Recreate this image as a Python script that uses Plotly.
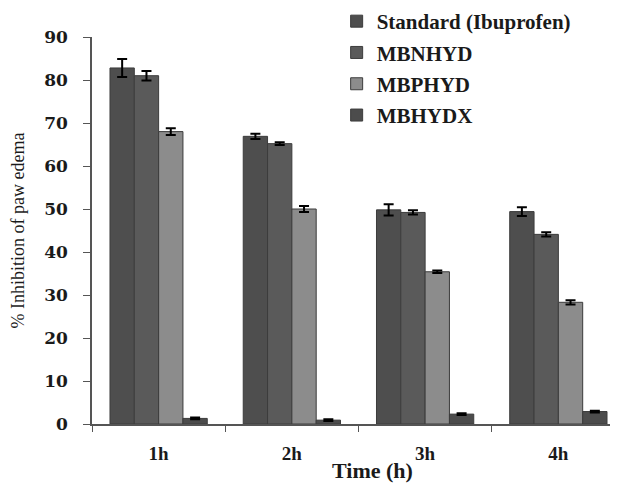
import plotly.graph_objects as go

categories = ["1h", "2h", "3h", "4h"]
series_names = ["Standard (Ibuprofen)", "MBNHYD", "MBPHYD", "MBHYDX"]
standard = [82.8, 66.9, 49.8, 49.4]
standard_err = [2.1, 0.6, 1.3, 1.0]
mbnhyd = [81.0, 65.2, 49.2, 44.1]
mbnhyd_err = [1.1, 0.3, 0.5, 0.5]
mbphyd = [68.0, 50.0, 35.4, 28.3]
mbphyd_err = [0.8, 0.7, 0.3, 0.5]
mbhydx = [1.3, 0.9, 2.3, 2.9]
mbhydx_err = [0.2, 0.2, 0.2, 0.2]
y_ticks = [0, 10, 20, 30, 40, 50, 60, 70, 80, 90]

values = [standard, mbnhyd, mbphyd, mbhydx]
errors = [standard_err, mbnhyd_err, mbphyd_err, mbhydx_err]
colors = ["#4e4e4e", "#5a5a5a", "#8c8c8c", "#4c4c4c"]

fig = go.Figure()
for i, (name, v, e, c) in enumerate(zip(series_names, values, errors, colors)):
    fig.add_trace(go.Bar(
        x=categories, y=v, name=name, legendgroup=str(i),
        marker=dict(color=c, line=dict(color="#3c3c3c", width=1)),
        error_y=dict(type="data", array=e, color="black", thickness=2, width=5),
    ))

serif = "Liberation Serif"
fig.update_layout(
    width=610, height=476,
    margin=dict(l=84, r=1, t=29, b=60, autoexpand=False),
    paper_bgcolor="white", plot_bgcolor="white",
    barmode="group", bargap=0.27, bargroupgap=0,
    font=dict(family=serif, color="#1a1a1a"),
    legend=dict(x=0.466, y=1.093, xanchor="left", yanchor="top",
                font=dict(family=serif, size=21, weight="bold", color="#1a1a1a"),
                traceorder="grouped", tracegroupgap=1, bgcolor="rgba(0,0,0,0)"),
    xaxis=dict(range=[-0.5, 3.44], showline=True, linecolor="#555", linewidth=1.5,
               ticks="outside", tickson="boundaries", ticklen=6, tickcolor="#555",
               tickfont=dict(family=serif, size=19, weight="bold"),
               ticklabelstandoff=11, showgrid=False, automargin=False),
    yaxis=dict(range=[0, 90], tickvals=y_ticks, showline=True, linecolor="#555",
               linewidth=1.5, ticks="outside", ticklen=7, tickcolor="#555",
               tickfont=dict(family="DejaVu Serif", size=17, weight="bold"),
               ticklabelstandoff=12, showgrid=False, zeroline=False, automargin=False,
               title=dict(text="% Inhibition of paw edema",
                          font=dict(family=serif, size=18), standoff=16)),
    annotations=[dict(text="<b>Time (h)</b>", xref="paper", yref="paper",
                      x=0.535, y=-0.121, xanchor="center", yanchor="middle",
                      showarrow=False, font=dict(family=serif, size=22))],
)

fig.write_html("out.html")
